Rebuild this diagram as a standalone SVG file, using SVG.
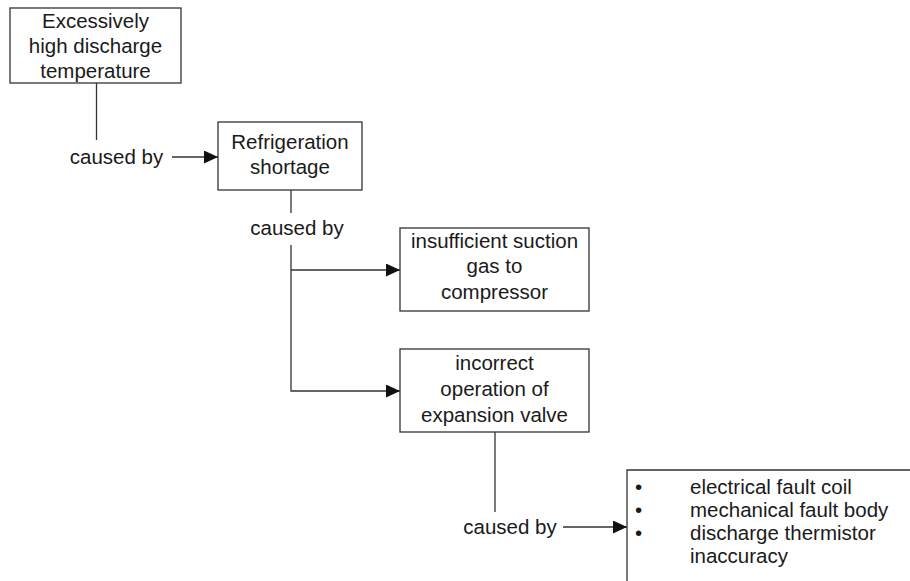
<svg xmlns="http://www.w3.org/2000/svg" width="910" height="581" viewBox="0 0 910 581">
<style>
.box{fill:#fff;stroke:#333;stroke-width:1.3}
.ln{fill:none;stroke:#333;stroke-width:1.3}
text{font-family:"Liberation Sans",Arial,sans-serif;font-size:20.5px;fill:#1a1a1a}
.c{text-anchor:middle}
</style>
<defs>
<marker id="ah" viewBox="0 0 14 13" refX="14" refY="6.5" markerWidth="14" markerHeight="13" markerUnits="userSpaceOnUse" orient="auto">
<path d="M0,0 L14,6.5 L0,13 Z" fill="#111"/>
</marker>
</defs>
<rect width="910" height="581" fill="#fff"/>
<g id="connectors">
<path class="ln" d="M96.5,83 V140"/>
<path class="ln" d="M172,157 H218" marker-end="url(#ah)"/>
<path class="ln" d="M291,190 V213"/>
<path class="ln" d="M291,245 V391 H400" marker-end="url(#ah)"/>
<path class="ln" d="M291,270 H400" marker-end="url(#ah)"/>
<path class="ln" d="M495,432 V512"/>
<path class="ln" d="M563,527 H627" marker-end="url(#ah)"/>
<text class="c" x="116.5" y="164">caused by</text>
<text class="c" x="297" y="235">caused by</text>
<text class="c" x="510" y="534">caused by</text>
</g>
<g id="n1">
<rect class="box" x="10" y="8" width="171" height="75"/>
<text class="c" x="95.5" y="28">Excessively</text>
<text class="c" x="95.5" y="53">high discharge</text>
<text class="c" x="95.5" y="78">temperature</text>
</g>
<g id="n2">
<rect class="box" x="218" y="122" width="144" height="68"/>
<text class="c" x="290" y="149">Refrigeration</text>
<text class="c" x="290" y="174">shortage</text>
</g>
<g id="n3">
<rect class="box" x="400" y="228" width="189" height="83"/>
<text class="c" x="494.5" y="248">insufficient suction</text>
<text class="c" x="494.5" y="273">gas to</text>
<text class="c" x="494.5" y="299">compressor</text>
</g>
<g id="n4">
<rect class="box" x="400" y="349" width="189" height="83"/>
<text class="c" x="494.5" y="370">incorrect</text>
<text class="c" x="494.5" y="396">operation of</text>
<text class="c" x="494.5" y="422">expansion valve</text>
</g>
<g id="n5">
<path class="ln" d="M910,470 H627 V581"/>
<text x="635" y="494">•</text>
<text x="690" y="494">electrical fault coil</text>
<text x="635" y="517">•</text>
<text x="690" y="517">mechanical fault body</text>
<text x="635" y="540">•</text>
<text x="690" y="540">discharge thermistor</text>
<text x="690" y="563">inaccuracy</text>
</g>
</svg>
